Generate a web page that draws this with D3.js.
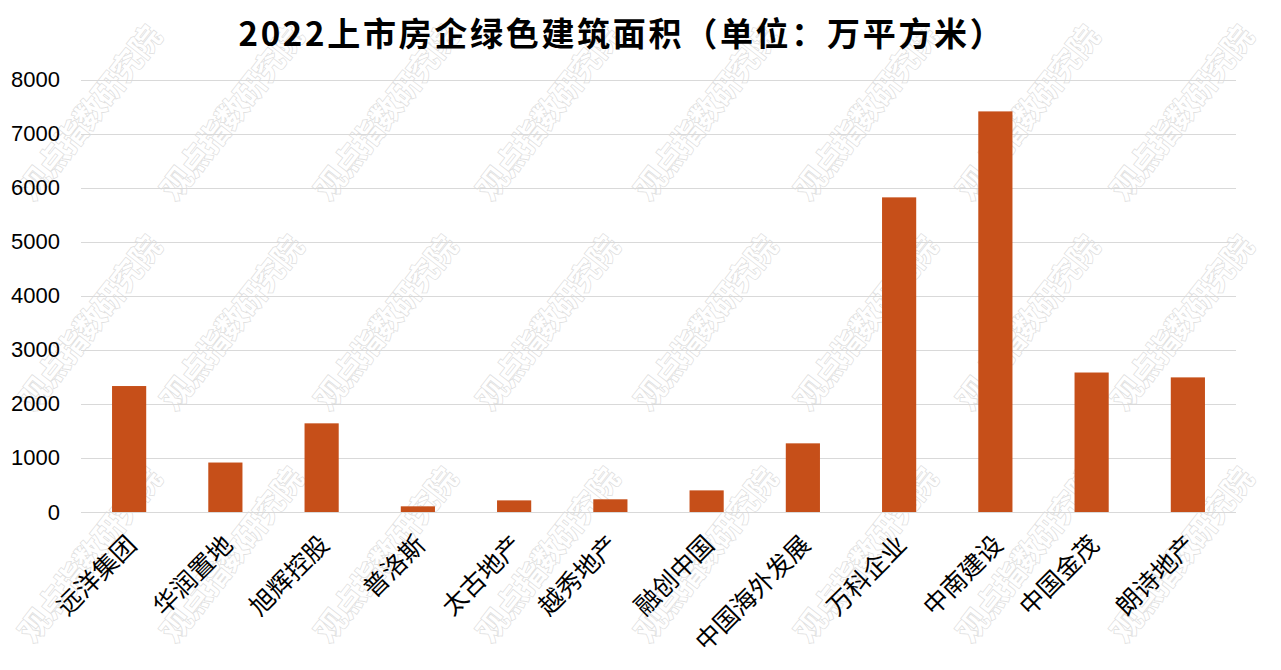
<!DOCTYPE html>
<html>
<head>
<meta charset="utf-8">
<script src="https://cdn.jsdelivr.net/npm/d3@7"></script>
<style>
  html, body { margin: 0; padding: 0; background: #fff; }
  svg { display: block; }
</style>
</head>
<body>
<div id="chart"></div>
<script>
const chartTitle = "2022上市房企绿色建筑面积（单位：万平方米）";
const categories = ["远洋集团", "华润置地", "旭辉控股", "普洛斯", "太古地产", "越秀地产", "融创中国", "中国海外发展", "万科企业", "中南建设", "中国金茂", "朗诗地产"];
const values = [2330, 915, 1640, 105, 215, 235, 400, 1270, 5820, 7410, 2580, 2490];
const yTicks = [0, 1000, 2000, 3000, 4000, 5000, 6000, 7000, 8000];
const watermarkText = "观点指数研究院";
const watermarkCols = [34, 176, 330, 492, 650, 810, 972, 1126];
const watermarkRows = [202, 412, 644];

const W = 1281, H = 670;
const margin = { left: 81, right: 45, top: 79.5, bottom: 158 };

const svg = d3.select("#chart").append("svg")
  .attr("width", W).attr("height", H)
  .attr("viewBox", `0 0 ${W} ${H}`);

const x = d3.scaleBand()
  .domain(categories)
  .range([margin.left, W - margin.right])
  .padding(0);

const y = d3.scaleLinear()
  .domain([0, 8000])
  .range([H - margin.bottom, margin.top]);

// watermark
const wm = svg.append("g").attr("class", "watermark");
watermarkRows.forEach(ry => {
  watermarkCols.forEach(sx => {
    wm.append("text")
      .attr("transform", `translate(${sx},${ry}) rotate(-52)`)
      .attr("font-family", "'Noto Sans CJK SC', sans-serif")
      .attr("font-size", 30)
      .attr("font-weight", 700)
      .attr("fill", "#ffffff")
      .attr("stroke", "#e0e0e0")
      .attr("stroke-width", 1.6)
      .attr("paint-order", "stroke")
      .text(watermarkText);
  });
});

// gridlines
svg.append("g")
  .selectAll("line")
  .data(yTicks)
  .join("line")
  .attr("x1", margin.left)
  .attr("x2", W - margin.right)
  .attr("y1", d => Math.round(y(d)) + 0.5)
  .attr("y2", d => Math.round(y(d)) + 0.5)
  .attr("stroke", "#d9d9d9")
  .attr("stroke-width", 1);

// bars
const barW = x.bandwidth() * 0.355;
svg.append("g")
  .selectAll("rect")
  .data(values)
  .join("rect")
  .attr("x", (d, i) => x(categories[i]) + x.bandwidth() / 2 - barW / 2)
  .attr("y", d => y(d))
  .attr("width", barW)
  .attr("height", d => y(0) - y(d))
  .attr("fill", "#c64f19");

// y axis labels
const yAxis = d3.axisLeft(y).tickValues(yTicks).tickSize(0).tickPadding(21).tickFormat(d3.format("d"));
const yg = svg.append("g")
  .attr("transform", `translate(${margin.left},0)`)
  .call(yAxis);
yg.select(".domain").remove();
yg.selectAll("text")
  .attr("font-family", "'Liberation Sans', Arial, sans-serif")
  .attr("font-size", 22)
  .attr("fill", "#000");

// x axis labels
const xAxis = d3.axisBottom(x).tickSize(0).tickPadding(0);
const xg = svg.append("g")
  .attr("transform", `translate(0,${y(0)})`)
  .call(xAxis);
xg.select(".domain").remove();
xg.selectAll("text")
  .attr("font-family", "'Noto Sans CJK SC', sans-serif")
  .attr("font-size", 25)
  .attr("fill", "#000")
  .attr("text-anchor", "end")
  .attr("dy", "0.35em")
  .attr("y", 0)
  .attr("transform", "translate(3,28) rotate(-45)");

// title
svg.append("text")
  .attr("x", 622)
  .attr("y", 46)
  .attr("text-anchor", "middle")
  .attr("font-family", "'Noto Sans CJK SC', sans-serif")
  .attr("font-weight", 700)
  .attr("font-size", 33)
  .attr("letter-spacing", "2.7px")
  .attr("fill", "#000")
  .text(chartTitle);
</script>
</body>
</html>
